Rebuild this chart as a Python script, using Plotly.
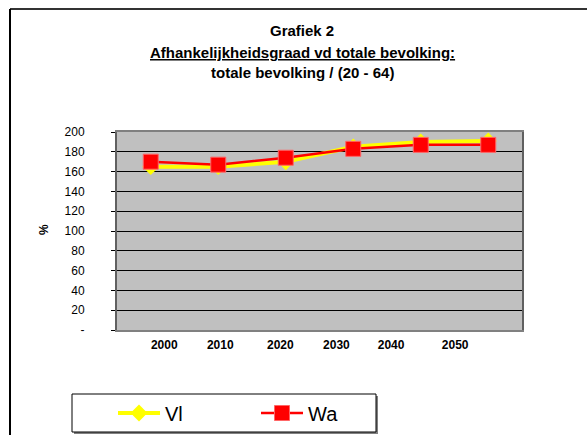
import plotly.graph_objects as go

years = ["2000", "2010", "2020", "2030", "2040", "2050"]
vl = [165, 165, 170, 185, 190, 191]
wa = [170, 167, 174, 183, 187, 187]
y_ticks = [0, 20, 40, 60, 80, 100, 120, 140, 160, 180, 200]
y_ticktext = ["-", "20", "40", "60", "80", "100", "120", "140", "160", "180", "200"]
# positions of year labels (in category units, as they appear in the original)
tick_pos = [0.20, 1.03, 1.92, 2.75, 3.56, 4.51]

W, H = 587, 435
L, R, T, B = 117, 522, 132, 330
pw, ph = R - L, B - T


def px(x):
    return (x - L) / pw


def py(y):
    return (B - y) / ph


FONT = "Liberation Sans, Arial, sans-serif"
idx = list(range(len(years)))

fig = go.Figure()
fig.add_trace(go.Scatter(
    x=idx, y=vl, name="Vl", mode="lines+markers",
    line=dict(color="#ffff00", width=4),
    marker=dict(symbol="diamond", size=13, color="#ffff00"),
))
fig.add_trace(go.Scatter(
    x=idx, y=wa, name="Wa", mode="lines+markers",
    line=dict(color="#ff0000", width=2.5),
    marker=dict(symbol="square", size=15, color="#ff0000",
                line=dict(color="#ff6666", width=1)),
))

fig.update_layout(
    width=W, height=H,
    margin=dict(l=L, r=W - R, t=T, b=H - B, pad=0),
    paper_bgcolor="white", plot_bgcolor="#c0c0c0",
    font=dict(family=FONT, color="black", size=12),
    showlegend=True,
    legend=dict(
        orientation="h", xref="container", yref="container",
        x=113 / W, y=1 - 413 / H, xanchor="left", yanchor="middle",
        bgcolor="rgba(0,0,0,0)", borderwidth=0,
        font=dict(size=20, family=FONT),
        entrywidth=86, entrywidthmode="pixels", itemwidth=42,
        tracegroupgap=0,
    ),
    xaxis=dict(
        range=[-0.5, 5.5], tickvals=tick_pos, ticktext=years,
        tickfont=dict(size=12, family=FONT, weight="bold"),
        showgrid=False, zeroline=False, ticks="",
        ticklabelstandoff=3,
        showline=True, linecolor="#808080", linewidth=2, mirror=True,
        fixedrange=True,
    ),
    yaxis=dict(
        range=[0, 200], tickvals=y_ticks, ticktext=y_ticktext,
        showgrid=True, gridcolor="black", gridwidth=1, zeroline=False,
        ticks="outside", ticklen=4, tickcolor="black", tickwidth=1,
        ticklabelstandoff=24,
        showline=True, linecolor="#606060", linewidth=2, mirror=True,
        fixedrange=True,
    ),
    shapes=[
        dict(type="line", xref="paper", yref="paper",
             x0=px(10), x1=px(W + 5), y0=py(9), y1=py(9),
             line=dict(color="#333333", width=2)),
        dict(type="line", xref="paper", yref="paper",
             x0=px(10), x1=px(10), y0=py(9), y1=py(H + 5),
             line=dict(color="black", width=2)),
        # legend box shadow and box
        dict(type="rect", xref="paper", yref="paper",
             x0=px(74), x1=px(378), y0=py(396), y1=py(434),
             fillcolor="#808080", line=dict(width=0)),
        dict(type="rect", xref="paper", yref="paper",
             x0=px(72), x1=px(376), y0=py(394), y1=py(432),
             fillcolor="white", line=dict(color="black", width=1)),
    ],
    annotations=[
        dict(text="<b>Grafiek 2</b>", xref="paper", yref="paper",
             x=px(302), y=py(31), yanchor="middle", showarrow=False,
             font=dict(size=15)),
        dict(text="<b><u>Afhankelijkheidsgraad vd totale bevolking:</u></b>",
             xref="paper", yref="paper", x=px(302), y=py(52),
             yanchor="middle", showarrow=False, font=dict(size=15)),
        dict(text="<b>totale bevolking / (20 - 64)</b>", xref="paper",
             yref="paper", x=px(302), y=py(72), yanchor="middle",
             showarrow=False, font=dict(size=15)),
        dict(text="<b>%</b>", xref="paper", yref="paper",
             x=px(44), y=py(230), xanchor="center", yanchor="middle",
             showarrow=False, textangle=-90, font=dict(size=12)),
    ],
)

fig.write_html(
    "out.html",
    config={"displayModeBar": False},
    post_script="document.body.style.margin='0px';"
                "document.body.style.overflow='hidden';",
)
